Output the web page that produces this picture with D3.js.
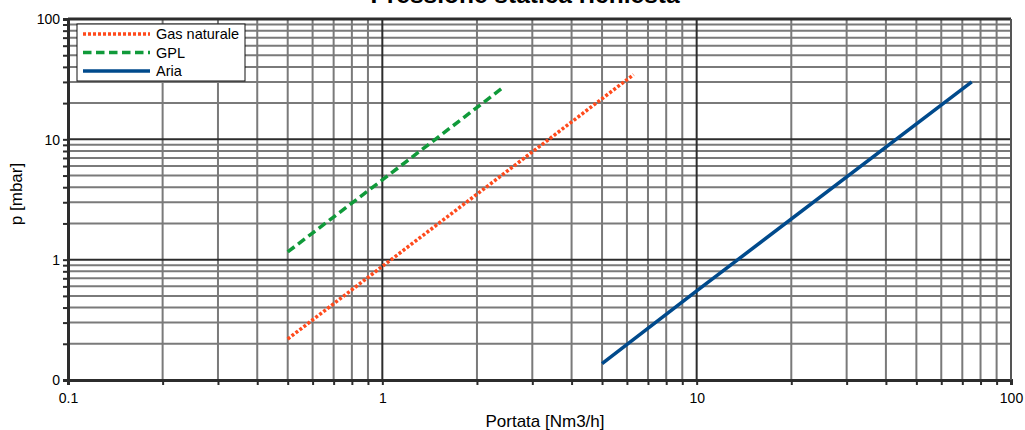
<!DOCTYPE html>
<html>
<head>
<meta charset="utf-8">
<script src="https://cdn.jsdelivr.net/npm/d3@7"></script>
<style>
  html, body { margin: 0; padding: 0; background: #fff; }
  svg { display: block; font-family: "Liberation Sans", Arial, sans-serif; }
</style>
</head>
<body>
<svg id="chart" width="1025" height="430"></svg>
<script>
// ---- data ----
const seriesNames = ["Gas naturale", "GPL", "Aria"];
const gasQ = [0.5, 1, 2, 6.3];
const gasP = [0.219, 0.88, 3.5, 34.5];
const gplQ = [0.5, 1, 2.4];
const gplP = [1.16, 4.6, 26.5];
const ariaQ = [5, 10, 75];
const ariaP = [0.137, 0.55, 30];
const xTickValues = [0.1, 1, 10, 100];
const xTickLabels = ["0.1", "1", "10", "100"];
const yTickValues = [0.1, 1, 10, 100];
const yTickLabels = ["0", "1", "10", "100"];
const colors = ["#ff4a1c", "#109a3a", "#004a8c"];

const svg = d3.select("#chart");
const mLeft = 68, mRight = 1011, mTop = 19, mBottom = 380;

const x = d3.scaleLog().domain([0.1, 100]).range([mLeft, mRight]);
const y = d3.scaleLog().domain([0.1, 100]).range([mBottom, mTop]);

// minor values
const minor = [];
[0.1, 1, 10].forEach(d => { for (let k = 2; k <= 9; k++) minor.push(d * k); });

const g = svg.append("g");

// minor grid
g.selectAll(".vminor").data(minor).join("line")
  .attr("x1", d => x(d)).attr("x2", d => x(d))
  .attr("y1", mTop).attr("y2", mBottom)
  .attr("stroke", "#7a7a7a").attr("stroke-width", 2);
g.selectAll(".hminor").data(minor).join("line")
  .attr("y1", d => y(d)).attr("y2", d => y(d))
  .attr("x1", mLeft).attr("x2", mRight)
  .attr("stroke", "#7a7a7a").attr("stroke-width", 2);
// major grid
g.selectAll(".vmajor").data(xTickValues).join("line")
  .attr("x1", d => x(d)).attr("x2", d => x(d))
  .attr("y1", mTop).attr("y2", mBottom)
  .attr("stroke", "#2c2c2c").attr("stroke-width", 2);
g.selectAll(".hmajor").data(yTickValues).join("line")
  .attr("y1", d => y(d)).attr("y2", d => y(d))
  .attr("x1", mLeft).attr("x2", mRight)
  .attr("stroke", "#2c2c2c").attr("stroke-width", 2);

// axes with ticks
const xAxis = d3.axisBottom(x).tickValues(xTickValues.concat(minor)).tickSize(5)
  .tickFormat(d => { const i = xTickValues.indexOf(d); return i >= 0 ? xTickLabels[i] : ""; });
const yAxis = d3.axisLeft(y).tickValues(yTickValues.concat(minor)).tickSize(5)
  .tickFormat(d => { const i = yTickValues.indexOf(d); return i >= 0 ? yTickLabels[i] : ""; });

const gx = svg.append("g").attr("transform", `translate(0,${mBottom})`).call(xAxis);
const gy = svg.append("g").attr("transform", `translate(${mLeft},0)`).call(yAxis);
[gx, gy].forEach(a => {
  a.select(".domain").attr("stroke", "#2c2c2c").attr("stroke-width", 3);
  a.selectAll(".tick line").attr("stroke", "#2c2c2c").attr("stroke-width", 2);
  a.selectAll("text").attr("font-size", 14).attr("fill", "#000")
    .attr("font-family", "Liberation Sans, Arial, sans-serif");
});
gx.selectAll("text").attr("y", 23).attr("dy", 0);
gy.selectAll("text").attr("dy", "0.35em").attr("x", -8);

// top & right border
svg.append("line").attr("x1", mLeft).attr("x2", mRight).attr("y1", mTop).attr("y2", mTop)
  .attr("stroke", "#2c2c2c").attr("stroke-width", 3);
svg.append("line").attr("x1", mRight).attr("x2", mRight).attr("y1", mTop).attr("y2", mBottom)
  .attr("stroke", "#555").attr("stroke-width", 2);

// series
const line = d3.line().x(d => x(d[0])).y(d => y(d[1]));
const series = [
  { name: seriesNames[0], pts: d3.zip(gasQ, gasP), color: colors[0], dash: "3,2" },
  { name: seriesNames[1], pts: d3.zip(gplQ, gplP), color: colors[1], dash: "8.5,4.5" },
  { name: seriesNames[2], pts: d3.zip(ariaQ, ariaP), color: colors[2], dash: null }
];
series.forEach(s => {
  svg.append("path").attr("d", line(s.pts)).attr("fill", "none")
    .attr("stroke", s.color).attr("stroke-width", 3.5)
    .attr("stroke-dasharray", s.dash);
});

// legend
const lg = svg.append("g");
lg.append("rect").attr("x", 77).attr("y", 24).attr("width", 168).attr("height", 57)
  .attr("fill", "#fff").attr("stroke", "#111").attr("stroke-width", 1);
series.forEach((s, i) => {
  const yy = 34 + i * 18.5;
  lg.append("line").attr("x1", 83).attr("x2", 150).attr("y1", yy).attr("y2", yy)
    .attr("stroke", s.color).attr("stroke-width", 3.5).attr("stroke-dasharray", s.dash);
  lg.append("text").attr("x", 156).attr("y", yy).attr("dy", "0.35em")
    .attr("font-size", 14.5).attr("fill", "#000").text(s.name);
});

// titles
svg.append("text").attr("x", 525).attr("y", 3).attr("text-anchor", "middle")
  .attr("font-size", 24.5).attr("font-weight", "bold").attr("fill", "#000")
  .text("Pressione statica richiesta");
svg.append("text").attr("x", 545).attr("y", 427).attr("text-anchor", "middle")
  .attr("font-size", 17).attr("fill", "#000").text("Portata [Nm3/h]");
svg.append("text").attr("transform", "translate(22,194) rotate(-90)")
  .attr("text-anchor", "middle").attr("font-size", 17).attr("fill", "#000").text("p [mbar]");
</script>
</body>
</html>
